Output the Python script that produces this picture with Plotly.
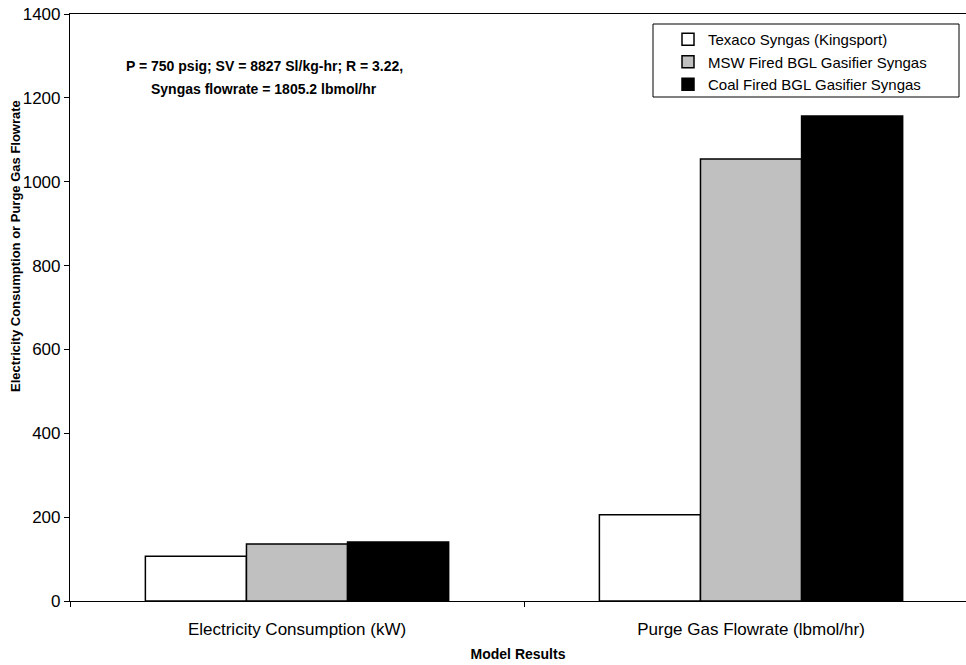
import plotly.graph_objects as go

categories = ["Electricity Consumption (kW)", "Purge Gas Flowrate (lbmol/hr)"]
series_names = [
    "Texaco Syngas (Kingsport)",
    "MSW Fired BGL Gasifier Syngas",
    "Coal Fired BGL Gasifier Syngas",
]
texaco = [107, 206]
msw = [136, 1054]
coal = [141, 1157]
y_ticks = [0, 200, 400, 600, 800, 1000, 1200, 1400]
note_lines = [
    "P = 750 psig; SV = 8827 Sl/kg-hr; R = 3.22,",
    "Syngas flowrate = 1805.2 lbmol/hr",
]

fills = ["#FFFFFF", "#C0C0C0", "#000000"]
FONT = "Liberation Sans, Arial, sans-serif"

fig = go.Figure()
for name, vals, fill in zip(series_names, [texaco, msw, coal], fills):
    fig.add_trace(go.Bar(
        x=categories, y=vals, name=name,
        marker=dict(color=fill, line=dict(color="#000000", width=1.5)),
    ))

W, H = 966, 665
L, R, T, B = 70, 0, 14, 64
PW, PH = W - L - R, H - T - B


def px_x(x):
    return (x - L) / PW


def px_y(y):
    return (H - B - y) / PH


fig.update_layout(
    width=W, height=H,
    margin=dict(l=L, r=R, t=T, b=B),
    paper_bgcolor="white", plot_bgcolor="white",
    barmode="group", bargap=0.332, bargroupgap=0,
    font=dict(family=FONT, color="#000000", size=14),
    showlegend=True,
    legend=dict(
        x=px_x(668), y=px_y(23),
        xanchor="left", yanchor="top",
        bgcolor="rgba(0,0,0,0)", borderwidth=0,
        font=dict(family=FONT, size=15, color="#000000"),
        itemwidth=30, tracegroupgap=0,
    ),
    xaxis=dict(
        type="category",
        range=[-0.5, 1.4735],
        showline=True, linecolor="#000000", linewidth=1.2, mirror=True,
        ticks="outside", ticklen=5, tickcolor="#000000", tickson="boundaries",
        ticklabelstandoff=12,
        showgrid=False, zeroline=False,
        tickfont=dict(family=FONT, size=17),
        title=dict(text="<b>Model Results</b>", font=dict(family=FONT, size=14), standoff=11),
        fixedrange=True,
    ),
    yaxis=dict(
        range=[0, 1400], tickvals=y_ticks,
        showline=True, linecolor="#000000", linewidth=1.2,
        ticks="outside", ticklen=5, tickcolor="#000000",
        showgrid=False, zeroline=False,
        tickfont=dict(family=FONT, size=17),
        fixedrange=True,
    ),
)

# legend frame
fig.add_shape(type="rect", xref="paper", yref="paper",
              x0=px_x(653), x1=px_x(959), y0=px_y(97), y1=px_y(24),
              line=dict(color="#000000", width=1), fillcolor="rgba(0,0,0,0)", layer="below")

# y-axis title
fig.add_annotation(
    text="<b>Electricity Consumption or Purge Gas Flowrate</b>",
    xref="paper", yref="paper", x=px_x(16), y=px_y(246),
    textangle=-90, showarrow=False, xanchor="center", yanchor="middle",
    font=dict(family=FONT, size=13),
)

# operating conditions note
for line, yc in zip(note_lines, [66, 89]):
    fig.add_annotation(
        text="<b>" + line + "</b>",
        xref="paper", yref="paper", x=px_x(264), y=px_y(yc),
        showarrow=False, xanchor="center", yanchor="middle",
        font=dict(family=FONT, size=14),
    )

fig.write_html("out.html")
